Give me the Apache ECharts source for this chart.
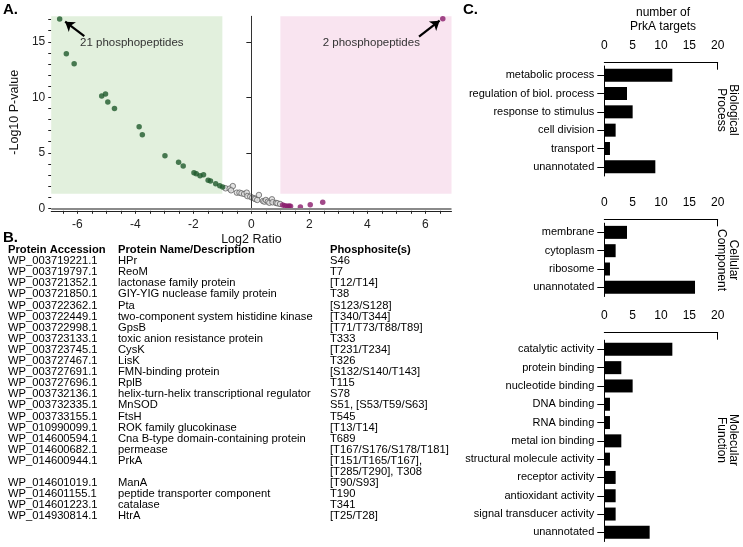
<!DOCTYPE html>
<html><head><meta charset="utf-8">
<script src="https://cdn.jsdelivr.net/npm/echarts@6/dist/echarts.min.js"></script>
<style>html,body{margin:0;padding:0;background:#fff}#c{width:743px;height:547px}</style>
</head><body><div id="c"></div>
<script>
// ---------- Panel A: volcano data (Log2 ratio, -Log10 P) ----------
const greenPts = [[-6.61,17.05],[-6.38,13.93],[-6.11,13.03],[-5.16,10.12],[-5.03,10.30],[-4.95,9.58],[-4.72,9.00],[-3.87,7.35],[-3.76,6.63],[-2.98,4.74],[-2.51,4.14],[-2.35,3.81],[-1.98,3.21],[-1.90,3.12],[-1.77,2.94],[-1.65,3.03],[-1.49,2.52],[-1.41,2.46],[-1.23,2.22],[-1.09,2.04],[-0.99,1.92]];
const grayPts = [[-0.89,1.80],[-0.75,1.77],[-0.64,2.00],[-0.70,1.62],[-0.50,1.41],[-0.41,1.41],[-0.34,1.35],[-0.25,1.29],[-0.16,1.41],[-0.14,1.10],[-0.04,1.05],[0.03,0.96],[0.10,0.90],[0.13,0.84],[0.20,0.75],[0.26,1.20],[0.40,0.66],[0.45,0.60],[0.50,0.75],[0.57,0.60],[0.62,0.50],[0.71,0.81],[0.73,0.54],[0.85,0.48],[0.90,0.45],[0.99,0.39]];
const purplePts = [[1.08,0.30],[1.16,0.22],[1.24,0.18],[1.30,0.20],[1.35,0.18],[1.69,0.12],[2.03,0.33],[2.46,0.54],[6.60,17.08]];
const xTickLabels = [-6,-4,-2,0,2,4,6];
const yTickLabels = [0,5,10,15];
const greenZone = [[-6.9,1.3],[-1,17.3]];
const pinkZone = [[1,1.3],[6.9,17.3]];
const arrowLeft = [[-5.76,15.52],[-6.42,16.81]];
const arrowRight = [[5.78,15.46],[6.49,16.90]];

// ---------- Panel B: table ----------
const tableHeaders = ['Protein Accession','Protein Name/Description','Phosphosite(s)'];
const accessions = ['WP_003719221.1','WP_003719797.1','WP_003721352.1','WP_003721850.1','WP_003722362.1','WP_003722449.1','WP_003722998.1','WP_003723133.1','WP_003723745.1','WP_003727467.1','WP_003727691.1','WP_003727696.1','WP_003732136.1','WP_003732335.1','WP_003733155.1','WP_010990099.1','WP_014600594.1','WP_014600682.1','WP_014600944.1','WP_014601019.1','WP_014601155.1','WP_014601223.1','WP_014930814.1'];
const proteinNames = ['HPr','ReoM','lactonase family protein','GIY-YIG nuclease family protein','Pta','two-component system histidine kinase','GpsB','toxic anion resistance protein','CysK','LisK','FMN-binding protein','RplB','helix-turn-helix transcriptional regulator','MnSOD','FtsH','ROK family glucokinase','Cna B-type domain-containing protein','permease','PrkA','ManA','peptide transporter component','catalase','HtrA'];
const phosphosites = ['S46','T7','[T12/T14]','T38','[S123/S128]','[T340/T344]','[T71/T73/T88/T89]','T333','[T231/T234]','T326','[S132/S140/T143]','T115','S78','S51, [S53/T59/S63]','T545','[T13/T14]','T689','[T167/S176/S178/T181]','[T151/T165/T167],\n[T285/T290], T308','[T90/S93]','T190','T341','[T25/T28]'];

// ---------- Panel C: GO categories ----------
const bpCats = ['metabolic process','regulation of biol. process','response to stimulus','cell division','transport','unannotated'];
const bpVals = [12,4,5,2,1,9];
const ccCats = ['membrane','cytoplasm','ribosome','unannotated'];
const ccVals = [4,2,1,16];
const mfCats = ['catalytic activity','protein binding','nucleotide binding','DNA binding','RNA binding','metal ion binding','structural molecule activity','receptor activity','antioxidant activity','signal transducer activity','unannotated'];
const mfVals = [12,3,5,1,1,3,1,2,2,2,8];
const barTicks = [0,5,10,15,20];

const FONT = '"Liberation Sans", Arial, Helvetica, sans-serif';
const halfTicks = []; for (let v = -6.5; v <= 6.5001; v += 0.5) halfTicks.push(+v.toFixed(1));
const unitTicks = []; for (let v = 0; v <= 17; v++) unitTicks.push(v);

// table text columns
const col1 = [], col2 = [], col3 = [];
phosphosites.forEach((s, i) => {
  const n = s.split('\n').length;
  col1.push(accessions[i]); col2.push(proteinNames[i]); col3.push(s);
  for (let k = 1; k < n; k++) { col1.push(''); col2.push(''); }
});
const LH = 11.1;
function txt(x, y, text, opt) {
  return {type:'text', x:x, y:y, z:100, silent:true, style:Object.assign({text:text, fontFamily:FONT, fontSize:11.2, fill:'#000', textVerticalAlign:'top', textAlign:'left', lineHeight:LH}, opt || {})};
}
function rtxt(y, text) {
  return {type:'text', x:727, y:y, z:100, rotation:-Math.PI/2, silent:true, style:{text:text, fontFamily:FONT, fontSize:12, fill:'#000', textAlign:'center', textVerticalAlign:'middle', lineHeight:12}};
}

const chart = echarts.init(document.getElementById('c'));

function barGrid(idx, cats, vals, top, bottom, off) {
  return {
    grid: {left:604.3, right:25.3, top:top, bottom:bottom},
    xAxis: {gridIndex:idx, type:'value', position:'top', min:0, max:20, offset:off,
      axisLine:{show:true, lineStyle:{color:'#000', width:1}},
      axisTick:{show:true, inside:true, length:7, customValues:[20], lineStyle:{color:'#000'}},
      axisLabel:{customValues:barTicks, color:'#000', fontSize:12, fontFamily:FONT, margin:11},
      splitLine:{show:false}},
    yAxis: {gridIndex:idx, type:'category', data:cats, inverse:true,
      axisLine:{show:true, lineStyle:{color:'#000', width:1}},
      axisTick:{show:true, alignWithLabel:true, length:7, lineStyle:{color:'#000'}},
      axisLabel:{color:'#000', fontSize:11, fontFamily:FONT, margin:10}},
    series: {type:'bar', xAxisIndex:idx, yAxisIndex:idx, data:vals, barWidth:13, itemStyle:{color:'#000'}, silent:true}
  };
}
const g1 = barGrid(1, bpCats, bpVals, 66, 371, 3.3);
const g2 = barGrid(2, ccCats, ccVals, 223.2, 250.5, 3.9);
const g3 = barGrid(3, mfCats, mfVals, 340.2, 5.5, 7.5);

const option = {
  animation:false,
  backgroundColor:'#fff',
  textStyle:{fontFamily:FONT},
  grid:[{left:43.1, right:291.5, top:16.3, bottom:338.7}, g1.grid, g2.grid, g3.grid],
  xAxis:[
    {gridIndex:0, type:'value', min:-6.9, max:6.9, offset:2.5,
      name:'Log2 Ratio', nameLocation:'middle', nameGap:22, nameTextStyle:{color:'#111', fontSize:12.5, fontFamily:FONT},
      axisLine:{show:true, onZero:false, lineStyle:{color:'#222', width:1}},
      axisTick:{show:true, length:3, customValues:halfTicks, lineStyle:{color:'#222'}},
      axisLabel:{customValues:xTickLabels, color:'#222', fontSize:12, fontFamily:FONT, margin:8},
      splitLine:{show:false}},
    g1.xAxis, g2.xAxis, g3.xAxis
  ],
  yAxis:[
    {gridIndex:0, type:'value', min:0, max:17.3, position:'left',
      name:'-Log10 P-value', nameLocation:'middle', nameGap:18, nameTextStyle:{color:'#111', fontSize:12.5, fontFamily:FONT},
      axisLine:{show:true, lineStyle:{color:'#222', width:1}},
      axisTick:{show:true, length:5, customValues:yTickLabels, lineStyle:{color:'#222'}},
      axisLabel:{customValues:yTickLabels, color:'#222', fontSize:12, fontFamily:FONT, margin:6},
      splitLine:{show:false}},
    g1.yAxis, g2.yAxis, g3.yAxis,
    {gridIndex:0, type:'value', min:0, max:17.3, position:'left', offset:0,
      axisLine:{show:false}, axisLabel:{show:false}, splitLine:{show:false},
      axisTick:{show:true, length:3, customValues:unitTicks, lineStyle:{color:'#222'}}}
  ],
  series:[
    {type:'scatter', xAxisIndex:0, yAxisIndex:0, data:[], z:0, silent:true,
      markArea:{silent:true, data:[
        [{coord:greenZone[0], itemStyle:{color:'#e2f0dd'}}, {coord:greenZone[1]}],
        [{coord:pinkZone[0], itemStyle:{color:'#f9e4f0'}}, {coord:pinkZone[1]}]
      ]},
      markLine:{silent:true, symbol:'none', label:{show:false}, animation:false, data:[
        {xAxis:0, lineStyle:{color:'#333', width:1, type:'solid'}},
        {yAxis:0, lineStyle:{color:'#8a8a8a', width:2, type:'solid'}}
      ]}},
    {type:'scatter', xAxisIndex:0, yAxisIndex:0, data:grayPts, z:3, symbolSize:5.5, silent:true,
      itemStyle:{color:'#dcdcdc', borderColor:'#555', borderWidth:0.9}},
    {type:'scatter', xAxisIndex:0, yAxisIndex:0, data:greenPts, z:4, symbolSize:5.5, silent:true,
      itemStyle:{color:'#1f5a2c'},
      markLine:{silent:true, symbol:['none','arrow'], symbolSize:9, label:{show:false},
        lineStyle:{color:'#000', width:2.2, type:'solid'},
        data:[[{coord:arrowLeft[0]}, {coord:arrowLeft[1]}]]}},
    {type:'scatter', xAxisIndex:0, yAxisIndex:0, data:purplePts, z:4, symbolSize:5.5, silent:true,
      itemStyle:{color:'#8a1c6c'},
      markLine:{silent:true, symbol:['none','arrow'], symbolSize:9, label:{show:false},
        lineStyle:{color:'#000', width:2.2, type:'solid'},
        data:[[{coord:arrowRight[0]}, {coord:arrowRight[1]}]]}},
    g1.series, g2.series, g3.series
  ],
  graphic:[
    txt(3, 4, 'A.', {fontSize:15, fontWeight:'bold'}),
    txt(3, 232, 'B.', {fontSize:15, fontWeight:'bold'}),
    txt(463, 4, 'C.', {fontSize:15, fontWeight:'bold'}),
    txt(80, 37, '21 phosphopeptides', {fill:'#333', fontSize:11.5}),
    txt(322.7, 37, '2 phosphopeptides', {fill:'#333', fontSize:11.5}),
    txt(663, 6, 'number of\nPrkA targets', {fontSize:12, textAlign:'center', lineHeight:14}),
    rtxt(110, 'Biological\nProcess'),
    rtxt(260, 'Cellular\nComponent'),
    rtxt(440, 'Molecular\nFunction'),
    txt(8, 244.5, tableHeaders[0], {fontWeight:'bold'}),
    txt(118, 244.5, tableHeaders[1], {fontWeight:'bold'}),
    txt(330, 244.5, tableHeaders[2], {fontWeight:'bold'}),
    txt(8, 255.5, col1.join('\n')),
    txt(118, 255.5, col2.join('\n')),
    txt(330, 255.5, col3.join('\n'))
  ]
};
chart.setOption(option);
</script>
</body></html>
